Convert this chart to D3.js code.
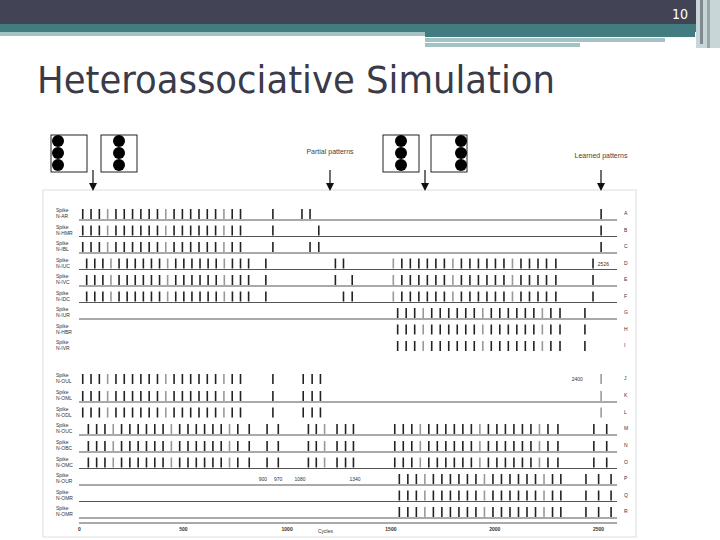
<!DOCTYPE html>
<html><head><meta charset="utf-8">
<script src="https://cdn.jsdelivr.net/npm/d3@7"></script>
<style>body{margin:0;background:#fff}svg{display:block}</style></head>
<body><svg id="c" width="720" height="540"></svg>
<script>
const rowLabels=["N-AR","N-HMR","N-IBL","N-IUC","N-IVC","N-IDC","N-IUR","N-HBR","N-IVR","N-OUL","N-OML","N-ODL","N-OUC","N-OBC","N-OMC","N-OUR","N-OMR","N-OMR"];
const rowLetters=["A","B","C","D","E","F","G","H","I","J","K","L","M","N","O","P","Q","R"];
const hasLine=[1,1,1,1,1,1,1,0,0,0,1,0,1,1,1,1,1,1];
const xTicks=[0,500,1000,1500,2000,2500];
const blockA=[18,58,98,138,178,218,258,298,338,378,418,458,498,538,578,618,658,698,738,778];
const blockD=[37,76,115,154,193,232,271,310,349,388,427,466,505,544,583,622,661,700,739,778,817];
const blockD2=[1514,1555,1596,1637,1678,1719,1760,1801,1842,1883,1924,1965,2006,2047,2088,2129,2170,2211,2252,2297];
const blockG=[1535,1576,1617,1658,1699,1740,1781,1822,1863,1904,1945,1986,2027,2068,2109,2150,2191,2232,2273,2317];
const blockM=[45,85,125,165,205,245,285,325,365,405,445,485,525,565,605,645,685,725,765,820];
const blockM2=[1521,1562,1603,1644,1685,1726,1767,1808,1849,1890,1931,1972,2013,2054,2095,2136,2177,2218,2259,2307];
const blockP=[1543,1584,1625,1666,1707,1748,1789,1830,1871,1912,1953,1994,2035,2076,2117,2158,2199,2240,2281,2321];
const spikes=[
 blockA.concat([934,1074,1113,2515]),
 blockA.concat([934,1155,2515]),
 blockA.concat([934,1113,1155,2515]),
 blockD.concat([900,1235,1274],blockD2,[2476]),
 blockD.concat([900,1235,1316],blockD2,[2476]),
 blockD.concat([900,1274,1316],blockD2,[2476]),
 blockG.concat([2437]),
 blockG.concat([2437]),
 blockG.concat([2437]),
 blockA.concat([934,1080,1123,1163,2515]),
 blockA.concat([934,1080,1123,1163,2515]),
 blockA.concat([934,1080,1123,1163,2515]),
 blockM.concat([906,960,1105,1143,1183,1243,1284,1322],blockM2,[2480,2542]),
 blockM.concat([906,960,1105,1143,1183,1243,1284,1322],blockM2,[2480,2542]),
 blockM.concat([906,960,1105,1143,1183,1243,1284,1322],blockM2,[2480,2542]),
 blockP.concat([2442,2503,2563]),
 blockP.concat([2442,2503,2563]),
 blockP.concat([2442,2503,2563])
];
const annot=[{row:3,c:2526,t:"2526"},{row:9,c:2400,t:"2400"},{row:15,c:886,t:"900"},{row:15,c:959,t:"970"},{row:15,c:1065,t:"1080"},{row:15,c:1330,t:"1340"}];

const svg=d3.select("#c");
svg.append("rect").attr("x",0).attr("y",0).attr("width",720).attr("height",24).attr("fill","#424456");
svg.append("rect").attr("x",0).attr("y",24).attr("width",720).attr("height",8).attr("fill","#437c80");
svg.append("rect").attr("x",0).attr("y",32).attr("width",425).attr("height",4).attr("fill","#a3c2c3");
svg.append("rect").attr("x",425).attr("y",32).attr("width",270).attr("height",5).attr("fill","#437c80");
svg.append("rect").attr("x",425).attr("y",38).attr("width",240).attr("height",4).attr("fill","#a3c2c3");
svg.append("rect").attr("x",425).attr("y",43).attr("width",155).attr("height",4).attr("fill","#a3c2c3");
svg.append("rect").attr("x",696).attr("y",0).attr("width",24).attr("height",48).attr("fill","#c8d6d8");
svg.append("rect").attr("x",700).attr("y",0).attr("width",3).attr("height",44).attr("fill","#808a90");
svg.append("rect").attr("x",707).attr("y",0).attr("width",3).attr("height",48).attr("fill","#9aa4aa");
svg.append("text").attr("x",688).attr("y",19).attr("text-anchor","end").attr("fill","#fff").attr("font-family","DejaVu Sans Condensed").attr("font-size",14).text("10");
svg.append("text").attr("x",37).attr("y",93).attr("fill","#3a3a48").attr("font-family","DejaVu Sans Condensed").attr("font-size",37).attr("textLength",518).attr("lengthAdjust","spacingAndGlyphs").text("Heteroassociative Simulation");

svg.append("rect").attr("x",43).attr("y",190).attr("width",593).attr("height",347).attr("fill","none").attr("stroke","#ddd");

const x=d3.scaleLinear().domain([0,2500]).range([79,598]);
const baseY=[220,236.5,253,269.5,286,302.5,319,335.5,352,385,402,418.5,435,452,468.5,485,501.5,518];
const g=svg.append("g");
spikes.forEach((s,i)=>{
  const y=baseY[i];
  if(hasLine[i]) g.append("line").attr("x1",79).attr("x2",617).attr("y1",y).attr("y2",y).attr("stroke","#555").attr("stroke-width",1);
  g.selectAll(null).data(s).enter().append("line")
   .attr("x1",d=>x(d)).attr("x2",d=>x(d)).attr("y1",y-11).attr("y2",y-1)
   .attr("stroke",(d,j)=>j%7==3?"#999":"#222").attr("stroke-width",1.6);
  const lt=g.append("text").attr("font-family","Liberation Sans").attr("font-size",5).attr("fill","#333");
  lt.append("tspan").attr("x",56).attr("y",y-8).text("Spike");
  lt.append("tspan").attr("x",56).attr("y",y-2).text(rowLabels[i]);
  g.append("text").attr("x",624).attr("y",y-5).attr("font-family","Liberation Sans").attr("font-size",5).attr("fill","#333").text(rowLetters[i]);
});
annot.forEach(a=>{
  g.append("text").attr("x",x(a.c)).attr("y",baseY[a.row]-4).attr("text-anchor","middle").attr("font-family","Liberation Sans").attr("font-size",5).attr("fill","#333").text(a.t);
});
const ax=svg.append("g").attr("transform","translate(0,523)").call(d3.axisBottom(x).tickValues(xTicks).tickFormat(d3.format("d")).tickSize(0).tickPadding(4));
ax.select(".domain").attr("d","M79,0H617").attr("stroke","#555");
ax.selectAll("text").attr("font-size",5).attr("font-family","Liberation Sans").attr("font-weight","bold").attr("fill","#333");
svg.append("text").attr("x",318).attr("y",533).attr("font-family","Liberation Sans").attr("font-size",5).attr("fill","#333").text("Cycles");

const boxes=[{x:51,cx:58},{x:101,cx:119},{x:383,cx:401},{x:431,cx:461}];
boxes.forEach(b=>{
  svg.append("rect").attr("x",b.x).attr("y",135).attr("width",36).attr("height",37).attr("fill","#fff").attr("stroke","#222").attr("stroke-width",1);
  [141,153,165].forEach(cy=>svg.append("circle").attr("cx",b.cx).attr("cy",cy).attr("r",6).attr("fill","#000"));
});
[93,330,425,601].forEach(ax=>{
  svg.append("line").attr("x1",ax).attr("x2",ax).attr("y1",170).attr("y2",186).attr("stroke","#111").attr("stroke-width",1.2);
  svg.append("path").attr("d",`M${ax-4},183L${ax+4},183L${ax},191Z`).attr("fill","#111");
});
svg.append("text").attr("x",330).attr("y",154).attr("text-anchor","middle").attr("font-family","Liberation Sans").attr("font-size",7).attr("fill","#444").text("Partial patterns");
svg.append("text").attr("x",601).attr("y",158).attr("text-anchor","middle").attr("font-family","Liberation Sans").attr("font-size",7).attr("fill","#444").text("Learned patterns");
</script></body></html>
